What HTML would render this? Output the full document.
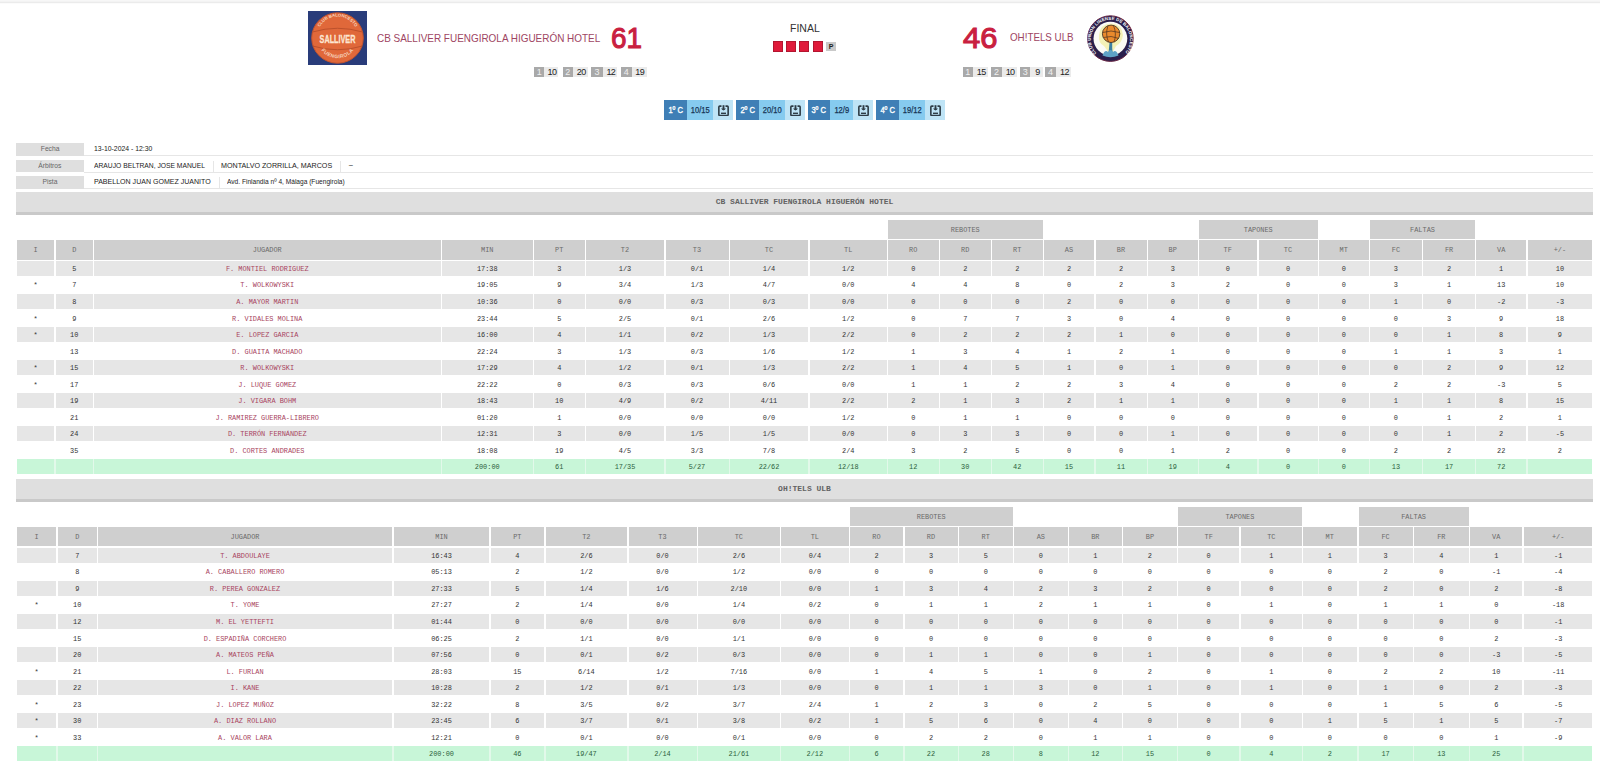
<!DOCTYPE html>
<html><head><meta charset="utf-8">
<style>
html,body{margin:0;padding:0;background:#fff;width:1600px;height:769px;overflow:hidden;position:relative}
body{font-family:"Liberation Sans",sans-serif}
.topbar{position:absolute;left:0;top:0;width:1600px;height:4px;background:linear-gradient(#f7f7f7 0,#f7f7f7 25%,#f3f3f3 25%,#f3f3f3 50%,#ebebeb 50%,#ebebeb 75%,#fbfbfb 75%)}
.abs{position:absolute}
.hd,.sup,.odd,.even,.tot{position:absolute;font-family:"Liberation Mono",monospace;font-size:6.9px;text-align:center;white-space:nowrap;overflow:hidden}
.hd,.sup{background:#cfcfcf;color:#6a6a6a}
.odd{background:#e6e6e6;color:#333}
.even{background:#fff;color:#333}
.nm{color:#a8445e}
.tot{background:#c8f6d8;color:#2c5e3c}
.sec{position:absolute;left:16px;width:1577px;height:20px;border-bottom:3.3px solid #c9c9c9;background:#dfdfdf;font-family:"Liberation Mono",monospace;font-weight:bold;font-size:8px;line-height:20px;text-align:center;color:#636363}
.info{position:absolute;left:16px;width:1577px;height:13px;font-size:8px;color:#222}
.info .lab{position:absolute;left:0;top:0;width:68px;height:12.5px;background:#dfdfdf;color:#666;text-align:center;line-height:12.5px}
.info .lab i{font-style:normal;display:inline-block;transform:scaleX(0.84)}
.info .line{position:absolute;left:68px;right:0;bottom:0;height:1px;background:#e6e6e6}
.info span{position:absolute;top:0;line-height:12.5px;white-space:nowrap}
.info .sep{position:absolute;top:1px;width:1px;height:11px;background:#e6e6e6}
.qbox{position:absolute;top:67px;height:9.7px}
.qn{position:absolute;top:0;height:9.7px;background:#a9a9a9;color:#f0f0f0;font-size:9px;line-height:10.5px;text-align:center}
.qv{position:absolute;top:0;height:9.7px;background:#ebebeb;color:#222;font-size:9px;line-height:10.5px;text-align:center;letter-spacing:-0.6px;text-indent:1.4px}
.qg{position:absolute;top:100.2px;height:19.6px}
.qg .d{position:absolute;top:0;height:100%;background:#3f7fb6;color:#fff;font-size:9px;line-height:20px;text-align:center}
.qg .m{position:absolute;top:0;height:100%;background:#86cbef;color:#173456;font-size:9px;line-height:20px;text-align:center}
.qg .l{position:absolute;top:0;height:100%;background:#bfe4f6}
.sx{display:inline-block;transform:scaleX(0.84)}
.qg .d .sx{-webkit-text-stroke:0.35px #fff}
.qg .m .sx{-webkit-text-stroke:0.25px #173456}
</style></head><body>
<div class="topbar"></div>

<!-- home logo -->
<svg class="abs" style="left:308px;top:11px" width="59" height="54" viewBox="0 0 59 54">
<defs><path id="arcT" d="M9.5 25 A20 19.5 0 0 1 49.5 25"/><path id="arcB" d="M9 27 A20.5 20.2 0 0 0 50 27"/></defs>
<rect x="0" y="0" width="59" height="54" fill="#293c7a"/>
<ellipse cx="29.5" cy="27" rx="25.8" ry="25.2" fill="#e0683a" stroke="#c4542e" stroke-width="1"/>
<path d="M4.5 21 Q29.5 13.5 54.5 21" stroke="#b84e2a" stroke-width="0.9" fill="none"/>
<path d="M4.5 35 Q29.5 42.5 54.5 35" stroke="#b84e2a" stroke-width="0.9" fill="none"/>
<text x="29.5" y="0" text-anchor="middle" font-family="Liberation Sans" font-weight="bold" font-size="11" fill="#fde6d2" transform="translate(29.5 32) scale(0.66 1.0) translate(-29.5 0)" stroke="#fde6d2" stroke-width="0.3">SALLIVER</text>
<text font-family="Liberation Sans" font-weight="bold" font-size="4.3" fill="#f6d3bd" text-anchor="middle"><textPath href="#arcT" startOffset="50%">CLUB BALONCESTO</textPath></text>
<text font-family="Liberation Sans" font-weight="bold" font-size="5" fill="#f6d3bd" text-anchor="middle" letter-spacing="0.4"><textPath href="#arcB" startOffset="50%">FUENGIROLA</textPath></text>
</svg>

<div class="abs" id="hname" style="left:376.5px;top:31.5px;font-size:11px;transform:scaleX(0.904);transform-origin:0 0;color:#9e4562;white-space:nowrap;line-height:13px">CB SALLIVER FUENGIROLA HIGUERÓN HOTEL</div>
<div class="abs" id="hscore" style="left:610.5px;top:19.5px;transform:scaleX(0.93);transform-origin:0 0;font-size:30px;font-weight:normal;-webkit-text-stroke:1.1px #c9203f;color:#c9203f;line-height:36px">61</div>

<div class="qbox" style="left:0">
<div class="qn" style="left:534px;width:10.4px">1</div><div class="qv" style="left:544.4px;width:13.8px">10</div>
<div class="qn" style="left:562.5px;width:10.5px">2</div><div class="qv" style="left:573px;width:15px">20</div>
<div class="qn" style="left:591.2px;width:11.6px">3</div><div class="qv" style="left:602.8px;width:14.7px">12</div>
<div class="qn" style="left:621px;width:10.5px">4</div><div class="qv" style="left:631.5px;width:15.1px">19</div>
</div>

<!-- center -->
<div class="abs" style="left:790px;top:22px;font-size:10.5px;color:#333;line-height:12px">FINAL</div>
<div class="abs" style="left:773px;top:41.3px;width:10px;height:10.3px;background:#df1a3a;box-shadow:inset 0 0 0 0.8px #a8142e"></div>
<div class="abs" style="left:786.4px;top:41.3px;width:10px;height:10.3px;background:#df1a3a;box-shadow:inset 0 0 0 0.8px #a8142e"></div>
<div class="abs" style="left:799.2px;top:41.3px;width:10px;height:10.3px;background:#df1a3a;box-shadow:inset 0 0 0 0.8px #a8142e"></div>
<div class="abs" style="left:812.7px;top:41.3px;width:10px;height:10.3px;background:#df1a3a;box-shadow:inset 0 0 0 0.8px #a8142e"></div>
<div class="abs" style="left:826.1px;top:41.6px;width:10px;height:9.6px;background:#c9c9c9;color:#222;font-size:7px;font-weight:bold;text-align:center;line-height:10px">P</div>

<!-- away -->
<div class="abs" id="ascore" style="left:962.7px;top:19.5px;transform:scaleX(1.03);transform-origin:0 0;font-size:30px;font-weight:normal;-webkit-text-stroke:1.1px #c9203f;color:#c9203f;line-height:36px">46</div>
<div class="abs" id="aname" style="left:1009.5px;top:31.3px;font-size:11px;transform:scaleX(0.89);transform-origin:0 0;color:#9e4562;white-space:nowrap;line-height:13px">OH!TELS ULB</div>
<svg class="abs" style="left:1086px;top:15px" width="48" height="48" viewBox="0 0 48 48">
<defs><path id="ring" d="M10.8 38.6 A19.6 19.6 0 1 1 38 38.6"/></defs>
<circle cx="24.4" cy="23.6" r="22.8" fill="#2a1f4c" stroke="#6a2845" stroke-width="1"/>
<circle cx="24.4" cy="23.6" r="16.9" fill="#fbfbf6"/>
<path d="M13 20 Q14 9 25 8.5 Q36 9 37 20 Q36 28 30 31 Q27 36 26 40 L23 40 Q21 34 18 31 Q12 28 13 20Z" fill="#f1eda0" opacity="0.75"/>
<path d="M23.6 27 Q23 33 22.6 38 L26.6 38 Q26 33 26.2 27Z" fill="#3c7fa2"/>
<path d="M16.5 40.5 Q19 34 22 37 Q24.5 33 27 37 Q30 34 32.5 40.5 Q24.5 44 16.5 40.5Z" fill="#5ea3c6"/>
<circle cx="25.1" cy="18.8" r="8.7" fill="#e98a2c" stroke="#3a281c" stroke-width="0.8"/>
<path d="M16.6 17.5 Q25 14.5 33.6 17.5 M17.5 22.5 Q25 20 33 23.5 M22 10.6 Q19 19 22.5 27 M27.5 10.5 Q31 19 28 27" stroke="#4a3020" stroke-width="0.7" fill="none"/>
<text font-family="Liberation Sans" font-weight="bold" font-size="4.4" fill="#ffffff" letter-spacing="0.1"><textPath href="#ring" startOffset="0.5">CLUB UNION LINENSE DE BALONCESTO</textPath></text>
</svg>

<div class="qbox" style="left:0">
<div class="qn" style="left:962.7px;width:10.1px">1</div><div class="qv" style="left:972.8px;width:15.4px">15</div>
<div class="qn" style="left:991.2px;width:10.7px">2</div><div class="qv" style="left:1001.9px;width:14.9px">10</div>
<div class="qn" style="left:1020px;width:10.4px">3</div><div class="qv" style="left:1030.4px;width:12.5px">9</div>
<div class="qn" style="left:1045.2px;width:10.8px">4</div><div class="qv" style="left:1056px;width:15.4px">12</div>
</div>

<!-- quarter buttons -->
<div class="qg" style="left:664.1px;width:68.5px"><div class="d" style="left:0;width:22.6px"><span class="sx">1º C</span></div><div class="m" style="left:22.6px;width:26.2px"><span class="sx">10/15</span></div><div class="l" style="left:48.8px;width:19.7px"><svg width="11" height="11.5" viewBox="0 0 11 11.5" style="position:absolute;left:50%;top:50%;margin:-5px 0 0 -5px"><path d="M3.5 1.1H1.8Q0.85 1.1 0.85 2.1V9.6Q0.85 10.6 1.8 10.6H9.2Q10.15 10.6 10.15 9.6V2.1Q10.15 1.1 9.2 1.1H7.5" stroke="#2f3c46" stroke-width="1.6" fill="none"/><path d="M5.5 0.2V4.6" stroke="#2f3c46" stroke-width="1.9"/><path d="M3 3.6Q5.5 7.2 8 3.6Z" fill="#2f3c46"/><rect x="3" y="7.6" width="5" height="1.4" fill="#2f3c46"/></svg></div></div>
<div class="qg" style="left:736.1px;width:69.4px"><div class="d" style="left:0;width:22.5px"><span class="sx">2º C</span></div><div class="m" style="left:22.5px;width:26.7px"><span class="sx">20/10</span></div><div class="l" style="left:49.2px;width:20.2px"><svg width="11" height="11.5" viewBox="0 0 11 11.5" style="position:absolute;left:50%;top:50%;margin:-5px 0 0 -5px"><path d="M3.5 1.1H1.8Q0.85 1.1 0.85 2.1V9.6Q0.85 10.6 1.8 10.6H9.2Q10.15 10.6 10.15 9.6V2.1Q10.15 1.1 9.2 1.1H7.5" stroke="#2f3c46" stroke-width="1.6" fill="none"/><path d="M5.5 0.2V4.6" stroke="#2f3c46" stroke-width="1.9"/><path d="M3 3.6Q5.5 7.2 8 3.6Z" fill="#2f3c46"/><rect x="3" y="7.6" width="5" height="1.4" fill="#2f3c46"/></svg></div></div>
<div class="qg" style="left:808px;width:65px"><div class="d" style="left:0;width:22.2px"><span class="sx">3º C</span></div><div class="m" style="left:22.2px;width:22.6px"><span class="sx">12/9</span></div><div class="l" style="left:44.8px;width:20.2px"><svg width="11" height="11.5" viewBox="0 0 11 11.5" style="position:absolute;left:50%;top:50%;margin:-5px 0 0 -5px"><path d="M3.5 1.1H1.8Q0.85 1.1 0.85 2.1V9.6Q0.85 10.6 1.8 10.6H9.2Q10.15 10.6 10.15 9.6V2.1Q10.15 1.1 9.2 1.1H7.5" stroke="#2f3c46" stroke-width="1.6" fill="none"/><path d="M5.5 0.2V4.6" stroke="#2f3c46" stroke-width="1.9"/><path d="M3 3.6Q5.5 7.2 8 3.6Z" fill="#2f3c46"/><rect x="3" y="7.6" width="5" height="1.4" fill="#2f3c46"/></svg></div></div>
<div class="qg" style="left:876.2px;width:68.8px"><div class="d" style="left:0;width:22.8px"><span class="sx">4º C</span></div><div class="m" style="left:22.8px;width:26px"><span class="sx">19/12</span></div><div class="l" style="left:48.8px;width:20px"><svg width="11" height="11.5" viewBox="0 0 11 11.5" style="position:absolute;left:50%;top:50%;margin:-5px 0 0 -5px"><path d="M3.5 1.1H1.8Q0.85 1.1 0.85 2.1V9.6Q0.85 10.6 1.8 10.6H9.2Q10.15 10.6 10.15 9.6V2.1Q10.15 1.1 9.2 1.1H7.5" stroke="#2f3c46" stroke-width="1.6" fill="none"/><path d="M5.5 0.2V4.6" stroke="#2f3c46" stroke-width="1.9"/><path d="M3 3.6Q5.5 7.2 8 3.6Z" fill="#2f3c46"/><rect x="3" y="7.6" width="5" height="1.4" fill="#2f3c46"/></svg></div></div>

<!-- info rows -->
<div class="info" style="top:143px"><div class="lab"><i>Fecha</i></div><div class="line"></div><span style="left:77.7px;transform:scaleX(0.858);transform-origin:0 0">13-10-2024 - 12:30</span></div>
<div class="info" style="top:159.5px"><div class="lab"><i>Árbitros</i></div><div class="line"></div><span style="left:77.7px;transform:scaleX(0.841);transform-origin:0 0">ARAUJO BELTRAN, JOSE MANUEL</span><div class="sep" style="left:196.5px"></div><span style="left:204.9px;transform:scaleX(0.892);transform-origin:0 0">MONTALVO ZORRILLA, MARCOS</span><div class="sep" style="left:323.5px"></div><span style="left:332.6px">~</span></div>
<div class="info" style="top:176px"><div class="lab"><i>Pista</i></div><div class="line"></div><span style="left:77.7px;transform:scaleX(0.88);transform-origin:0 0">PABELLON JUAN GOMEZ JUANITO</span><div class="sep" style="left:202.6px"></div><span style="left:210.7px;transform:scaleX(0.824);transform-origin:0 0">Avd. Finlandia nº 4, Málaga (Fuengirola)</span></div>

<div class="sec" style="top:192.00px">CB SALLIVER FUENGIROLA HIGUERÓN HOTEL</div>
<div class="sup" style="left:888.00px;top:220.00px;width:154.50px;height:18.80px;line-height:20.80px">REBOTES</div>
<div class="sup" style="left:1199.00px;top:220.00px;width:118.50px;height:18.80px;line-height:20.80px">TAPONES</div>
<div class="sup" style="left:1370.00px;top:220.00px;width:105.00px;height:18.80px;line-height:20.80px">FALTAS</div>
<div class="hd" style="left:17.00px;top:240.30px;width:37.00px;height:19.30px;line-height:21.30px">I</div>
<div class="hd" style="left:55.50px;top:240.30px;width:37.50px;height:19.30px;line-height:21.30px">D</div>
<div class="hd" style="left:94.00px;top:240.30px;width:346.50px;height:19.30px;line-height:21.30px">JUGADOR</div>
<div class="hd" style="left:442.00px;top:240.30px;width:90.50px;height:19.30px;line-height:21.30px">MIN</div>
<div class="hd" style="left:534.00px;top:240.30px;width:50.50px;height:19.30px;line-height:21.30px">PT</div>
<div class="hd" style="left:586.00px;top:240.30px;width:78.00px;height:19.30px;line-height:21.30px">T2</div>
<div class="hd" style="left:665.50px;top:240.30px;width:63.00px;height:19.30px;line-height:21.30px">T3</div>
<div class="hd" style="left:730.00px;top:240.30px;width:78.00px;height:19.30px;line-height:21.30px">TC</div>
<div class="hd" style="left:809.50px;top:240.30px;width:77.50px;height:19.30px;line-height:21.30px">TL</div>
<div class="hd" style="left:888.00px;top:240.30px;width:50.50px;height:19.30px;line-height:21.30px">RO</div>
<div class="hd" style="left:940.00px;top:240.30px;width:50.50px;height:19.30px;line-height:21.30px">RD</div>
<div class="hd" style="left:992.00px;top:240.30px;width:50.50px;height:19.30px;line-height:21.30px">RT</div>
<div class="hd" style="left:1044.00px;top:240.30px;width:50.00px;height:19.30px;line-height:21.30px">AS</div>
<div class="hd" style="left:1095.50px;top:240.30px;width:51.00px;height:19.30px;line-height:21.30px">BR</div>
<div class="hd" style="left:1148.00px;top:240.30px;width:49.50px;height:19.30px;line-height:21.30px">BP</div>
<div class="hd" style="left:1199.00px;top:240.30px;width:57.50px;height:19.30px;line-height:21.30px">TF</div>
<div class="hd" style="left:1258.50px;top:240.30px;width:59.00px;height:19.30px;line-height:21.30px">TC</div>
<div class="hd" style="left:1319.00px;top:240.30px;width:49.50px;height:19.30px;line-height:21.30px">MT</div>
<div class="hd" style="left:1370.00px;top:240.30px;width:51.80px;height:19.30px;line-height:21.30px">FC</div>
<div class="hd" style="left:1423.20px;top:240.30px;width:51.80px;height:19.30px;line-height:21.30px">FR</div>
<div class="hd" style="left:1476.40px;top:240.30px;width:49.60px;height:19.30px;line-height:21.30px">VA</div>
<div class="hd" style="left:1527.60px;top:240.30px;width:64.70px;height:19.30px;line-height:21.30px">+/-</div>
<div class="odd" style="left:17.00px;top:260.90px;width:37.00px;height:15.10px;line-height:16.10px"></div>
<div class="odd" style="left:55.50px;top:260.90px;width:37.50px;height:15.10px;line-height:16.10px">5</div>
<div class="odd nm" style="left:94.00px;top:260.90px;width:346.50px;height:15.10px;line-height:16.10px">F. MONTIEL RODRIGUEZ</div>
<div class="odd" style="left:442.00px;top:260.90px;width:90.50px;height:15.10px;line-height:16.10px">17:38</div>
<div class="odd" style="left:534.00px;top:260.90px;width:50.50px;height:15.10px;line-height:16.10px">3</div>
<div class="odd" style="left:586.00px;top:260.90px;width:78.00px;height:15.10px;line-height:16.10px">1/3</div>
<div class="odd" style="left:665.50px;top:260.90px;width:63.00px;height:15.10px;line-height:16.10px">0/1</div>
<div class="odd" style="left:730.00px;top:260.90px;width:78.00px;height:15.10px;line-height:16.10px">1/4</div>
<div class="odd" style="left:809.50px;top:260.90px;width:77.50px;height:15.10px;line-height:16.10px">1/2</div>
<div class="odd" style="left:888.00px;top:260.90px;width:50.50px;height:15.10px;line-height:16.10px">0</div>
<div class="odd" style="left:940.00px;top:260.90px;width:50.50px;height:15.10px;line-height:16.10px">2</div>
<div class="odd" style="left:992.00px;top:260.90px;width:50.50px;height:15.10px;line-height:16.10px">2</div>
<div class="odd" style="left:1044.00px;top:260.90px;width:50.00px;height:15.10px;line-height:16.10px">2</div>
<div class="odd" style="left:1095.50px;top:260.90px;width:51.00px;height:15.10px;line-height:16.10px">2</div>
<div class="odd" style="left:1148.00px;top:260.90px;width:49.50px;height:15.10px;line-height:16.10px">3</div>
<div class="odd" style="left:1199.00px;top:260.90px;width:57.50px;height:15.10px;line-height:16.10px">0</div>
<div class="odd" style="left:1258.50px;top:260.90px;width:59.00px;height:15.10px;line-height:16.10px">0</div>
<div class="odd" style="left:1319.00px;top:260.90px;width:49.50px;height:15.10px;line-height:16.10px">0</div>
<div class="odd" style="left:1370.00px;top:260.90px;width:51.80px;height:15.10px;line-height:16.10px">3</div>
<div class="odd" style="left:1423.20px;top:260.90px;width:51.80px;height:15.10px;line-height:16.10px">2</div>
<div class="odd" style="left:1476.40px;top:260.90px;width:49.60px;height:15.10px;line-height:16.10px">1</div>
<div class="odd" style="left:1527.60px;top:260.90px;width:64.70px;height:15.10px;line-height:16.10px">10</div>
<div class="even" style="left:17.00px;top:277.44px;width:37.00px;height:15.10px;line-height:16.10px">*</div>
<div class="even" style="left:55.50px;top:277.44px;width:37.50px;height:15.10px;line-height:16.10px">7</div>
<div class="even nm" style="left:94.00px;top:277.44px;width:346.50px;height:15.10px;line-height:16.10px">T. WOLKOWYSKI</div>
<div class="even" style="left:442.00px;top:277.44px;width:90.50px;height:15.10px;line-height:16.10px">19:05</div>
<div class="even" style="left:534.00px;top:277.44px;width:50.50px;height:15.10px;line-height:16.10px">9</div>
<div class="even" style="left:586.00px;top:277.44px;width:78.00px;height:15.10px;line-height:16.10px">3/4</div>
<div class="even" style="left:665.50px;top:277.44px;width:63.00px;height:15.10px;line-height:16.10px">1/3</div>
<div class="even" style="left:730.00px;top:277.44px;width:78.00px;height:15.10px;line-height:16.10px">4/7</div>
<div class="even" style="left:809.50px;top:277.44px;width:77.50px;height:15.10px;line-height:16.10px">0/0</div>
<div class="even" style="left:888.00px;top:277.44px;width:50.50px;height:15.10px;line-height:16.10px">4</div>
<div class="even" style="left:940.00px;top:277.44px;width:50.50px;height:15.10px;line-height:16.10px">4</div>
<div class="even" style="left:992.00px;top:277.44px;width:50.50px;height:15.10px;line-height:16.10px">8</div>
<div class="even" style="left:1044.00px;top:277.44px;width:50.00px;height:15.10px;line-height:16.10px">0</div>
<div class="even" style="left:1095.50px;top:277.44px;width:51.00px;height:15.10px;line-height:16.10px">2</div>
<div class="even" style="left:1148.00px;top:277.44px;width:49.50px;height:15.10px;line-height:16.10px">3</div>
<div class="even" style="left:1199.00px;top:277.44px;width:57.50px;height:15.10px;line-height:16.10px">2</div>
<div class="even" style="left:1258.50px;top:277.44px;width:59.00px;height:15.10px;line-height:16.10px">0</div>
<div class="even" style="left:1319.00px;top:277.44px;width:49.50px;height:15.10px;line-height:16.10px">0</div>
<div class="even" style="left:1370.00px;top:277.44px;width:51.80px;height:15.10px;line-height:16.10px">3</div>
<div class="even" style="left:1423.20px;top:277.44px;width:51.80px;height:15.10px;line-height:16.10px">1</div>
<div class="even" style="left:1476.40px;top:277.44px;width:49.60px;height:15.10px;line-height:16.10px">13</div>
<div class="even" style="left:1527.60px;top:277.44px;width:64.70px;height:15.10px;line-height:16.10px">10</div>
<div class="odd" style="left:17.00px;top:293.98px;width:37.00px;height:15.10px;line-height:16.10px"></div>
<div class="odd" style="left:55.50px;top:293.98px;width:37.50px;height:15.10px;line-height:16.10px">8</div>
<div class="odd nm" style="left:94.00px;top:293.98px;width:346.50px;height:15.10px;line-height:16.10px">A. MAYOR MARTIN</div>
<div class="odd" style="left:442.00px;top:293.98px;width:90.50px;height:15.10px;line-height:16.10px">10:36</div>
<div class="odd" style="left:534.00px;top:293.98px;width:50.50px;height:15.10px;line-height:16.10px">0</div>
<div class="odd" style="left:586.00px;top:293.98px;width:78.00px;height:15.10px;line-height:16.10px">0/0</div>
<div class="odd" style="left:665.50px;top:293.98px;width:63.00px;height:15.10px;line-height:16.10px">0/3</div>
<div class="odd" style="left:730.00px;top:293.98px;width:78.00px;height:15.10px;line-height:16.10px">0/3</div>
<div class="odd" style="left:809.50px;top:293.98px;width:77.50px;height:15.10px;line-height:16.10px">0/0</div>
<div class="odd" style="left:888.00px;top:293.98px;width:50.50px;height:15.10px;line-height:16.10px">0</div>
<div class="odd" style="left:940.00px;top:293.98px;width:50.50px;height:15.10px;line-height:16.10px">0</div>
<div class="odd" style="left:992.00px;top:293.98px;width:50.50px;height:15.10px;line-height:16.10px">0</div>
<div class="odd" style="left:1044.00px;top:293.98px;width:50.00px;height:15.10px;line-height:16.10px">2</div>
<div class="odd" style="left:1095.50px;top:293.98px;width:51.00px;height:15.10px;line-height:16.10px">0</div>
<div class="odd" style="left:1148.00px;top:293.98px;width:49.50px;height:15.10px;line-height:16.10px">0</div>
<div class="odd" style="left:1199.00px;top:293.98px;width:57.50px;height:15.10px;line-height:16.10px">0</div>
<div class="odd" style="left:1258.50px;top:293.98px;width:59.00px;height:15.10px;line-height:16.10px">0</div>
<div class="odd" style="left:1319.00px;top:293.98px;width:49.50px;height:15.10px;line-height:16.10px">0</div>
<div class="odd" style="left:1370.00px;top:293.98px;width:51.80px;height:15.10px;line-height:16.10px">1</div>
<div class="odd" style="left:1423.20px;top:293.98px;width:51.80px;height:15.10px;line-height:16.10px">0</div>
<div class="odd" style="left:1476.40px;top:293.98px;width:49.60px;height:15.10px;line-height:16.10px">-2</div>
<div class="odd" style="left:1527.60px;top:293.98px;width:64.70px;height:15.10px;line-height:16.10px">-3</div>
<div class="even" style="left:17.00px;top:310.52px;width:37.00px;height:15.10px;line-height:16.10px">*</div>
<div class="even" style="left:55.50px;top:310.52px;width:37.50px;height:15.10px;line-height:16.10px">9</div>
<div class="even nm" style="left:94.00px;top:310.52px;width:346.50px;height:15.10px;line-height:16.10px">R. VIDALES MOLINA</div>
<div class="even" style="left:442.00px;top:310.52px;width:90.50px;height:15.10px;line-height:16.10px">23:44</div>
<div class="even" style="left:534.00px;top:310.52px;width:50.50px;height:15.10px;line-height:16.10px">5</div>
<div class="even" style="left:586.00px;top:310.52px;width:78.00px;height:15.10px;line-height:16.10px">2/5</div>
<div class="even" style="left:665.50px;top:310.52px;width:63.00px;height:15.10px;line-height:16.10px">0/1</div>
<div class="even" style="left:730.00px;top:310.52px;width:78.00px;height:15.10px;line-height:16.10px">2/6</div>
<div class="even" style="left:809.50px;top:310.52px;width:77.50px;height:15.10px;line-height:16.10px">1/2</div>
<div class="even" style="left:888.00px;top:310.52px;width:50.50px;height:15.10px;line-height:16.10px">0</div>
<div class="even" style="left:940.00px;top:310.52px;width:50.50px;height:15.10px;line-height:16.10px">7</div>
<div class="even" style="left:992.00px;top:310.52px;width:50.50px;height:15.10px;line-height:16.10px">7</div>
<div class="even" style="left:1044.00px;top:310.52px;width:50.00px;height:15.10px;line-height:16.10px">3</div>
<div class="even" style="left:1095.50px;top:310.52px;width:51.00px;height:15.10px;line-height:16.10px">0</div>
<div class="even" style="left:1148.00px;top:310.52px;width:49.50px;height:15.10px;line-height:16.10px">4</div>
<div class="even" style="left:1199.00px;top:310.52px;width:57.50px;height:15.10px;line-height:16.10px">0</div>
<div class="even" style="left:1258.50px;top:310.52px;width:59.00px;height:15.10px;line-height:16.10px">0</div>
<div class="even" style="left:1319.00px;top:310.52px;width:49.50px;height:15.10px;line-height:16.10px">0</div>
<div class="even" style="left:1370.00px;top:310.52px;width:51.80px;height:15.10px;line-height:16.10px">0</div>
<div class="even" style="left:1423.20px;top:310.52px;width:51.80px;height:15.10px;line-height:16.10px">3</div>
<div class="even" style="left:1476.40px;top:310.52px;width:49.60px;height:15.10px;line-height:16.10px">9</div>
<div class="even" style="left:1527.60px;top:310.52px;width:64.70px;height:15.10px;line-height:16.10px">18</div>
<div class="odd" style="left:17.00px;top:327.06px;width:37.00px;height:15.10px;line-height:16.10px">*</div>
<div class="odd" style="left:55.50px;top:327.06px;width:37.50px;height:15.10px;line-height:16.10px">10</div>
<div class="odd nm" style="left:94.00px;top:327.06px;width:346.50px;height:15.10px;line-height:16.10px">E. LOPEZ GARCIA</div>
<div class="odd" style="left:442.00px;top:327.06px;width:90.50px;height:15.10px;line-height:16.10px">16:00</div>
<div class="odd" style="left:534.00px;top:327.06px;width:50.50px;height:15.10px;line-height:16.10px">4</div>
<div class="odd" style="left:586.00px;top:327.06px;width:78.00px;height:15.10px;line-height:16.10px">1/1</div>
<div class="odd" style="left:665.50px;top:327.06px;width:63.00px;height:15.10px;line-height:16.10px">0/2</div>
<div class="odd" style="left:730.00px;top:327.06px;width:78.00px;height:15.10px;line-height:16.10px">1/3</div>
<div class="odd" style="left:809.50px;top:327.06px;width:77.50px;height:15.10px;line-height:16.10px">2/2</div>
<div class="odd" style="left:888.00px;top:327.06px;width:50.50px;height:15.10px;line-height:16.10px">0</div>
<div class="odd" style="left:940.00px;top:327.06px;width:50.50px;height:15.10px;line-height:16.10px">2</div>
<div class="odd" style="left:992.00px;top:327.06px;width:50.50px;height:15.10px;line-height:16.10px">2</div>
<div class="odd" style="left:1044.00px;top:327.06px;width:50.00px;height:15.10px;line-height:16.10px">2</div>
<div class="odd" style="left:1095.50px;top:327.06px;width:51.00px;height:15.10px;line-height:16.10px">1</div>
<div class="odd" style="left:1148.00px;top:327.06px;width:49.50px;height:15.10px;line-height:16.10px">0</div>
<div class="odd" style="left:1199.00px;top:327.06px;width:57.50px;height:15.10px;line-height:16.10px">0</div>
<div class="odd" style="left:1258.50px;top:327.06px;width:59.00px;height:15.10px;line-height:16.10px">0</div>
<div class="odd" style="left:1319.00px;top:327.06px;width:49.50px;height:15.10px;line-height:16.10px">0</div>
<div class="odd" style="left:1370.00px;top:327.06px;width:51.80px;height:15.10px;line-height:16.10px">0</div>
<div class="odd" style="left:1423.20px;top:327.06px;width:51.80px;height:15.10px;line-height:16.10px">1</div>
<div class="odd" style="left:1476.40px;top:327.06px;width:49.60px;height:15.10px;line-height:16.10px">8</div>
<div class="odd" style="left:1527.60px;top:327.06px;width:64.70px;height:15.10px;line-height:16.10px">9</div>
<div class="even" style="left:17.00px;top:343.60px;width:37.00px;height:15.10px;line-height:16.10px"></div>
<div class="even" style="left:55.50px;top:343.60px;width:37.50px;height:15.10px;line-height:16.10px">13</div>
<div class="even nm" style="left:94.00px;top:343.60px;width:346.50px;height:15.10px;line-height:16.10px">D. GUAITA MACHADO</div>
<div class="even" style="left:442.00px;top:343.60px;width:90.50px;height:15.10px;line-height:16.10px">22:24</div>
<div class="even" style="left:534.00px;top:343.60px;width:50.50px;height:15.10px;line-height:16.10px">3</div>
<div class="even" style="left:586.00px;top:343.60px;width:78.00px;height:15.10px;line-height:16.10px">1/3</div>
<div class="even" style="left:665.50px;top:343.60px;width:63.00px;height:15.10px;line-height:16.10px">0/3</div>
<div class="even" style="left:730.00px;top:343.60px;width:78.00px;height:15.10px;line-height:16.10px">1/6</div>
<div class="even" style="left:809.50px;top:343.60px;width:77.50px;height:15.10px;line-height:16.10px">1/2</div>
<div class="even" style="left:888.00px;top:343.60px;width:50.50px;height:15.10px;line-height:16.10px">1</div>
<div class="even" style="left:940.00px;top:343.60px;width:50.50px;height:15.10px;line-height:16.10px">3</div>
<div class="even" style="left:992.00px;top:343.60px;width:50.50px;height:15.10px;line-height:16.10px">4</div>
<div class="even" style="left:1044.00px;top:343.60px;width:50.00px;height:15.10px;line-height:16.10px">1</div>
<div class="even" style="left:1095.50px;top:343.60px;width:51.00px;height:15.10px;line-height:16.10px">2</div>
<div class="even" style="left:1148.00px;top:343.60px;width:49.50px;height:15.10px;line-height:16.10px">1</div>
<div class="even" style="left:1199.00px;top:343.60px;width:57.50px;height:15.10px;line-height:16.10px">0</div>
<div class="even" style="left:1258.50px;top:343.60px;width:59.00px;height:15.10px;line-height:16.10px">0</div>
<div class="even" style="left:1319.00px;top:343.60px;width:49.50px;height:15.10px;line-height:16.10px">0</div>
<div class="even" style="left:1370.00px;top:343.60px;width:51.80px;height:15.10px;line-height:16.10px">1</div>
<div class="even" style="left:1423.20px;top:343.60px;width:51.80px;height:15.10px;line-height:16.10px">1</div>
<div class="even" style="left:1476.40px;top:343.60px;width:49.60px;height:15.10px;line-height:16.10px">3</div>
<div class="even" style="left:1527.60px;top:343.60px;width:64.70px;height:15.10px;line-height:16.10px">1</div>
<div class="odd" style="left:17.00px;top:360.14px;width:37.00px;height:15.10px;line-height:16.10px">*</div>
<div class="odd" style="left:55.50px;top:360.14px;width:37.50px;height:15.10px;line-height:16.10px">15</div>
<div class="odd nm" style="left:94.00px;top:360.14px;width:346.50px;height:15.10px;line-height:16.10px">R. WOLKOWYSKI</div>
<div class="odd" style="left:442.00px;top:360.14px;width:90.50px;height:15.10px;line-height:16.10px">17:29</div>
<div class="odd" style="left:534.00px;top:360.14px;width:50.50px;height:15.10px;line-height:16.10px">4</div>
<div class="odd" style="left:586.00px;top:360.14px;width:78.00px;height:15.10px;line-height:16.10px">1/2</div>
<div class="odd" style="left:665.50px;top:360.14px;width:63.00px;height:15.10px;line-height:16.10px">0/1</div>
<div class="odd" style="left:730.00px;top:360.14px;width:78.00px;height:15.10px;line-height:16.10px">1/3</div>
<div class="odd" style="left:809.50px;top:360.14px;width:77.50px;height:15.10px;line-height:16.10px">2/2</div>
<div class="odd" style="left:888.00px;top:360.14px;width:50.50px;height:15.10px;line-height:16.10px">1</div>
<div class="odd" style="left:940.00px;top:360.14px;width:50.50px;height:15.10px;line-height:16.10px">4</div>
<div class="odd" style="left:992.00px;top:360.14px;width:50.50px;height:15.10px;line-height:16.10px">5</div>
<div class="odd" style="left:1044.00px;top:360.14px;width:50.00px;height:15.10px;line-height:16.10px">1</div>
<div class="odd" style="left:1095.50px;top:360.14px;width:51.00px;height:15.10px;line-height:16.10px">0</div>
<div class="odd" style="left:1148.00px;top:360.14px;width:49.50px;height:15.10px;line-height:16.10px">1</div>
<div class="odd" style="left:1199.00px;top:360.14px;width:57.50px;height:15.10px;line-height:16.10px">0</div>
<div class="odd" style="left:1258.50px;top:360.14px;width:59.00px;height:15.10px;line-height:16.10px">0</div>
<div class="odd" style="left:1319.00px;top:360.14px;width:49.50px;height:15.10px;line-height:16.10px">0</div>
<div class="odd" style="left:1370.00px;top:360.14px;width:51.80px;height:15.10px;line-height:16.10px">0</div>
<div class="odd" style="left:1423.20px;top:360.14px;width:51.80px;height:15.10px;line-height:16.10px">2</div>
<div class="odd" style="left:1476.40px;top:360.14px;width:49.60px;height:15.10px;line-height:16.10px">9</div>
<div class="odd" style="left:1527.60px;top:360.14px;width:64.70px;height:15.10px;line-height:16.10px">12</div>
<div class="even" style="left:17.00px;top:376.68px;width:37.00px;height:15.10px;line-height:16.10px">*</div>
<div class="even" style="left:55.50px;top:376.68px;width:37.50px;height:15.10px;line-height:16.10px">17</div>
<div class="even nm" style="left:94.00px;top:376.68px;width:346.50px;height:15.10px;line-height:16.10px">J. LUQUE GOMEZ</div>
<div class="even" style="left:442.00px;top:376.68px;width:90.50px;height:15.10px;line-height:16.10px">22:22</div>
<div class="even" style="left:534.00px;top:376.68px;width:50.50px;height:15.10px;line-height:16.10px">0</div>
<div class="even" style="left:586.00px;top:376.68px;width:78.00px;height:15.10px;line-height:16.10px">0/3</div>
<div class="even" style="left:665.50px;top:376.68px;width:63.00px;height:15.10px;line-height:16.10px">0/3</div>
<div class="even" style="left:730.00px;top:376.68px;width:78.00px;height:15.10px;line-height:16.10px">0/6</div>
<div class="even" style="left:809.50px;top:376.68px;width:77.50px;height:15.10px;line-height:16.10px">0/0</div>
<div class="even" style="left:888.00px;top:376.68px;width:50.50px;height:15.10px;line-height:16.10px">1</div>
<div class="even" style="left:940.00px;top:376.68px;width:50.50px;height:15.10px;line-height:16.10px">1</div>
<div class="even" style="left:992.00px;top:376.68px;width:50.50px;height:15.10px;line-height:16.10px">2</div>
<div class="even" style="left:1044.00px;top:376.68px;width:50.00px;height:15.10px;line-height:16.10px">2</div>
<div class="even" style="left:1095.50px;top:376.68px;width:51.00px;height:15.10px;line-height:16.10px">3</div>
<div class="even" style="left:1148.00px;top:376.68px;width:49.50px;height:15.10px;line-height:16.10px">4</div>
<div class="even" style="left:1199.00px;top:376.68px;width:57.50px;height:15.10px;line-height:16.10px">0</div>
<div class="even" style="left:1258.50px;top:376.68px;width:59.00px;height:15.10px;line-height:16.10px">0</div>
<div class="even" style="left:1319.00px;top:376.68px;width:49.50px;height:15.10px;line-height:16.10px">0</div>
<div class="even" style="left:1370.00px;top:376.68px;width:51.80px;height:15.10px;line-height:16.10px">2</div>
<div class="even" style="left:1423.20px;top:376.68px;width:51.80px;height:15.10px;line-height:16.10px">2</div>
<div class="even" style="left:1476.40px;top:376.68px;width:49.60px;height:15.10px;line-height:16.10px">-3</div>
<div class="even" style="left:1527.60px;top:376.68px;width:64.70px;height:15.10px;line-height:16.10px">5</div>
<div class="odd" style="left:17.00px;top:393.22px;width:37.00px;height:15.10px;line-height:16.10px"></div>
<div class="odd" style="left:55.50px;top:393.22px;width:37.50px;height:15.10px;line-height:16.10px">19</div>
<div class="odd nm" style="left:94.00px;top:393.22px;width:346.50px;height:15.10px;line-height:16.10px">J. VIGARA BOHM</div>
<div class="odd" style="left:442.00px;top:393.22px;width:90.50px;height:15.10px;line-height:16.10px">18:43</div>
<div class="odd" style="left:534.00px;top:393.22px;width:50.50px;height:15.10px;line-height:16.10px">10</div>
<div class="odd" style="left:586.00px;top:393.22px;width:78.00px;height:15.10px;line-height:16.10px">4/9</div>
<div class="odd" style="left:665.50px;top:393.22px;width:63.00px;height:15.10px;line-height:16.10px">0/2</div>
<div class="odd" style="left:730.00px;top:393.22px;width:78.00px;height:15.10px;line-height:16.10px">4/11</div>
<div class="odd" style="left:809.50px;top:393.22px;width:77.50px;height:15.10px;line-height:16.10px">2/2</div>
<div class="odd" style="left:888.00px;top:393.22px;width:50.50px;height:15.10px;line-height:16.10px">2</div>
<div class="odd" style="left:940.00px;top:393.22px;width:50.50px;height:15.10px;line-height:16.10px">1</div>
<div class="odd" style="left:992.00px;top:393.22px;width:50.50px;height:15.10px;line-height:16.10px">3</div>
<div class="odd" style="left:1044.00px;top:393.22px;width:50.00px;height:15.10px;line-height:16.10px">2</div>
<div class="odd" style="left:1095.50px;top:393.22px;width:51.00px;height:15.10px;line-height:16.10px">1</div>
<div class="odd" style="left:1148.00px;top:393.22px;width:49.50px;height:15.10px;line-height:16.10px">1</div>
<div class="odd" style="left:1199.00px;top:393.22px;width:57.50px;height:15.10px;line-height:16.10px">0</div>
<div class="odd" style="left:1258.50px;top:393.22px;width:59.00px;height:15.10px;line-height:16.10px">0</div>
<div class="odd" style="left:1319.00px;top:393.22px;width:49.50px;height:15.10px;line-height:16.10px">0</div>
<div class="odd" style="left:1370.00px;top:393.22px;width:51.80px;height:15.10px;line-height:16.10px">1</div>
<div class="odd" style="left:1423.20px;top:393.22px;width:51.80px;height:15.10px;line-height:16.10px">1</div>
<div class="odd" style="left:1476.40px;top:393.22px;width:49.60px;height:15.10px;line-height:16.10px">8</div>
<div class="odd" style="left:1527.60px;top:393.22px;width:64.70px;height:15.10px;line-height:16.10px">15</div>
<div class="even" style="left:17.00px;top:409.76px;width:37.00px;height:15.10px;line-height:16.10px"></div>
<div class="even" style="left:55.50px;top:409.76px;width:37.50px;height:15.10px;line-height:16.10px">21</div>
<div class="even nm" style="left:94.00px;top:409.76px;width:346.50px;height:15.10px;line-height:16.10px">J. RAMIREZ GUERRA-LIBRERO</div>
<div class="even" style="left:442.00px;top:409.76px;width:90.50px;height:15.10px;line-height:16.10px">01:20</div>
<div class="even" style="left:534.00px;top:409.76px;width:50.50px;height:15.10px;line-height:16.10px">1</div>
<div class="even" style="left:586.00px;top:409.76px;width:78.00px;height:15.10px;line-height:16.10px">0/0</div>
<div class="even" style="left:665.50px;top:409.76px;width:63.00px;height:15.10px;line-height:16.10px">0/0</div>
<div class="even" style="left:730.00px;top:409.76px;width:78.00px;height:15.10px;line-height:16.10px">0/0</div>
<div class="even" style="left:809.50px;top:409.76px;width:77.50px;height:15.10px;line-height:16.10px">1/2</div>
<div class="even" style="left:888.00px;top:409.76px;width:50.50px;height:15.10px;line-height:16.10px">0</div>
<div class="even" style="left:940.00px;top:409.76px;width:50.50px;height:15.10px;line-height:16.10px">1</div>
<div class="even" style="left:992.00px;top:409.76px;width:50.50px;height:15.10px;line-height:16.10px">1</div>
<div class="even" style="left:1044.00px;top:409.76px;width:50.00px;height:15.10px;line-height:16.10px">0</div>
<div class="even" style="left:1095.50px;top:409.76px;width:51.00px;height:15.10px;line-height:16.10px">0</div>
<div class="even" style="left:1148.00px;top:409.76px;width:49.50px;height:15.10px;line-height:16.10px">0</div>
<div class="even" style="left:1199.00px;top:409.76px;width:57.50px;height:15.10px;line-height:16.10px">0</div>
<div class="even" style="left:1258.50px;top:409.76px;width:59.00px;height:15.10px;line-height:16.10px">0</div>
<div class="even" style="left:1319.00px;top:409.76px;width:49.50px;height:15.10px;line-height:16.10px">0</div>
<div class="even" style="left:1370.00px;top:409.76px;width:51.80px;height:15.10px;line-height:16.10px">0</div>
<div class="even" style="left:1423.20px;top:409.76px;width:51.80px;height:15.10px;line-height:16.10px">1</div>
<div class="even" style="left:1476.40px;top:409.76px;width:49.60px;height:15.10px;line-height:16.10px">2</div>
<div class="even" style="left:1527.60px;top:409.76px;width:64.70px;height:15.10px;line-height:16.10px">1</div>
<div class="odd" style="left:17.00px;top:426.30px;width:37.00px;height:15.10px;line-height:16.10px"></div>
<div class="odd" style="left:55.50px;top:426.30px;width:37.50px;height:15.10px;line-height:16.10px">24</div>
<div class="odd nm" style="left:94.00px;top:426.30px;width:346.50px;height:15.10px;line-height:16.10px">D. TERRÓN FERNÁNDEZ</div>
<div class="odd" style="left:442.00px;top:426.30px;width:90.50px;height:15.10px;line-height:16.10px">12:31</div>
<div class="odd" style="left:534.00px;top:426.30px;width:50.50px;height:15.10px;line-height:16.10px">3</div>
<div class="odd" style="left:586.00px;top:426.30px;width:78.00px;height:15.10px;line-height:16.10px">0/0</div>
<div class="odd" style="left:665.50px;top:426.30px;width:63.00px;height:15.10px;line-height:16.10px">1/5</div>
<div class="odd" style="left:730.00px;top:426.30px;width:78.00px;height:15.10px;line-height:16.10px">1/5</div>
<div class="odd" style="left:809.50px;top:426.30px;width:77.50px;height:15.10px;line-height:16.10px">0/0</div>
<div class="odd" style="left:888.00px;top:426.30px;width:50.50px;height:15.10px;line-height:16.10px">0</div>
<div class="odd" style="left:940.00px;top:426.30px;width:50.50px;height:15.10px;line-height:16.10px">3</div>
<div class="odd" style="left:992.00px;top:426.30px;width:50.50px;height:15.10px;line-height:16.10px">3</div>
<div class="odd" style="left:1044.00px;top:426.30px;width:50.00px;height:15.10px;line-height:16.10px">0</div>
<div class="odd" style="left:1095.50px;top:426.30px;width:51.00px;height:15.10px;line-height:16.10px">0</div>
<div class="odd" style="left:1148.00px;top:426.30px;width:49.50px;height:15.10px;line-height:16.10px">1</div>
<div class="odd" style="left:1199.00px;top:426.30px;width:57.50px;height:15.10px;line-height:16.10px">0</div>
<div class="odd" style="left:1258.50px;top:426.30px;width:59.00px;height:15.10px;line-height:16.10px">0</div>
<div class="odd" style="left:1319.00px;top:426.30px;width:49.50px;height:15.10px;line-height:16.10px">0</div>
<div class="odd" style="left:1370.00px;top:426.30px;width:51.80px;height:15.10px;line-height:16.10px">0</div>
<div class="odd" style="left:1423.20px;top:426.30px;width:51.80px;height:15.10px;line-height:16.10px">1</div>
<div class="odd" style="left:1476.40px;top:426.30px;width:49.60px;height:15.10px;line-height:16.10px">2</div>
<div class="odd" style="left:1527.60px;top:426.30px;width:64.70px;height:15.10px;line-height:16.10px">-5</div>
<div class="even" style="left:17.00px;top:442.84px;width:37.00px;height:15.10px;line-height:16.10px"></div>
<div class="even" style="left:55.50px;top:442.84px;width:37.50px;height:15.10px;line-height:16.10px">35</div>
<div class="even nm" style="left:94.00px;top:442.84px;width:346.50px;height:15.10px;line-height:16.10px">D. CORTES ANDRADES</div>
<div class="even" style="left:442.00px;top:442.84px;width:90.50px;height:15.10px;line-height:16.10px">18:08</div>
<div class="even" style="left:534.00px;top:442.84px;width:50.50px;height:15.10px;line-height:16.10px">19</div>
<div class="even" style="left:586.00px;top:442.84px;width:78.00px;height:15.10px;line-height:16.10px">4/5</div>
<div class="even" style="left:665.50px;top:442.84px;width:63.00px;height:15.10px;line-height:16.10px">3/3</div>
<div class="even" style="left:730.00px;top:442.84px;width:78.00px;height:15.10px;line-height:16.10px">7/8</div>
<div class="even" style="left:809.50px;top:442.84px;width:77.50px;height:15.10px;line-height:16.10px">2/4</div>
<div class="even" style="left:888.00px;top:442.84px;width:50.50px;height:15.10px;line-height:16.10px">3</div>
<div class="even" style="left:940.00px;top:442.84px;width:50.50px;height:15.10px;line-height:16.10px">2</div>
<div class="even" style="left:992.00px;top:442.84px;width:50.50px;height:15.10px;line-height:16.10px">5</div>
<div class="even" style="left:1044.00px;top:442.84px;width:50.00px;height:15.10px;line-height:16.10px">0</div>
<div class="even" style="left:1095.50px;top:442.84px;width:51.00px;height:15.10px;line-height:16.10px">0</div>
<div class="even" style="left:1148.00px;top:442.84px;width:49.50px;height:15.10px;line-height:16.10px">1</div>
<div class="even" style="left:1199.00px;top:442.84px;width:57.50px;height:15.10px;line-height:16.10px">2</div>
<div class="even" style="left:1258.50px;top:442.84px;width:59.00px;height:15.10px;line-height:16.10px">0</div>
<div class="even" style="left:1319.00px;top:442.84px;width:49.50px;height:15.10px;line-height:16.10px">0</div>
<div class="even" style="left:1370.00px;top:442.84px;width:51.80px;height:15.10px;line-height:16.10px">2</div>
<div class="even" style="left:1423.20px;top:442.84px;width:51.80px;height:15.10px;line-height:16.10px">2</div>
<div class="even" style="left:1476.40px;top:442.84px;width:49.60px;height:15.10px;line-height:16.10px">22</div>
<div class="even" style="left:1527.60px;top:442.84px;width:64.70px;height:15.10px;line-height:16.10px">2</div>
<div style="position:absolute;left:17.00px;top:459.38px;width:1575.30px;height:15.10px;background:#e2f9ea"></div>
<div class="tot" style="left:17.00px;top:459.38px;width:37.00px;height:15.10px;line-height:16.10px"></div>
<div class="tot" style="left:55.50px;top:459.38px;width:37.50px;height:15.10px;line-height:16.10px"></div>
<div class="tot" style="left:94.00px;top:459.38px;width:346.50px;height:15.10px;line-height:16.10px"></div>
<div class="tot" style="left:442.00px;top:459.38px;width:90.50px;height:15.10px;line-height:16.10px">200:00</div>
<div class="tot" style="left:534.00px;top:459.38px;width:50.50px;height:15.10px;line-height:16.10px">61</div>
<div class="tot" style="left:586.00px;top:459.38px;width:78.00px;height:15.10px;line-height:16.10px">17/35</div>
<div class="tot" style="left:665.50px;top:459.38px;width:63.00px;height:15.10px;line-height:16.10px">5/27</div>
<div class="tot" style="left:730.00px;top:459.38px;width:78.00px;height:15.10px;line-height:16.10px">22/62</div>
<div class="tot" style="left:809.50px;top:459.38px;width:77.50px;height:15.10px;line-height:16.10px">12/18</div>
<div class="tot" style="left:888.00px;top:459.38px;width:50.50px;height:15.10px;line-height:16.10px">12</div>
<div class="tot" style="left:940.00px;top:459.38px;width:50.50px;height:15.10px;line-height:16.10px">30</div>
<div class="tot" style="left:992.00px;top:459.38px;width:50.50px;height:15.10px;line-height:16.10px">42</div>
<div class="tot" style="left:1044.00px;top:459.38px;width:50.00px;height:15.10px;line-height:16.10px">15</div>
<div class="tot" style="left:1095.50px;top:459.38px;width:51.00px;height:15.10px;line-height:16.10px">11</div>
<div class="tot" style="left:1148.00px;top:459.38px;width:49.50px;height:15.10px;line-height:16.10px">19</div>
<div class="tot" style="left:1199.00px;top:459.38px;width:57.50px;height:15.10px;line-height:16.10px">4</div>
<div class="tot" style="left:1258.50px;top:459.38px;width:59.00px;height:15.10px;line-height:16.10px">0</div>
<div class="tot" style="left:1319.00px;top:459.38px;width:49.50px;height:15.10px;line-height:16.10px">0</div>
<div class="tot" style="left:1370.00px;top:459.38px;width:51.80px;height:15.10px;line-height:16.10px">13</div>
<div class="tot" style="left:1423.20px;top:459.38px;width:51.80px;height:15.10px;line-height:16.10px">17</div>
<div class="tot" style="left:1476.40px;top:459.38px;width:49.60px;height:15.10px;line-height:16.10px">72</div>
<div class="tot" style="left:1527.60px;top:459.38px;width:64.70px;height:15.10px;line-height:16.10px"></div>
<div class="sec" style="top:478.80px">OH!TELS ULB</div>
<div class="sup" style="left:850.00px;top:507.20px;width:162.50px;height:18.60px;line-height:20.60px">REBOTES</div>
<div class="sup" style="left:1178.20px;top:507.20px;width:123.40px;height:18.60px;line-height:20.60px">TAPONES</div>
<div class="sup" style="left:1358.50px;top:507.20px;width:110.10px;height:18.60px;line-height:20.60px">FALTAS</div>
<div class="hd" style="left:17.00px;top:527.30px;width:39.00px;height:18.60px;line-height:20.60px">I</div>
<div class="hd" style="left:58.00px;top:527.30px;width:38.50px;height:18.60px;line-height:20.60px">D</div>
<div class="hd" style="left:98.00px;top:527.30px;width:294.00px;height:18.60px;line-height:20.60px">JUGADOR</div>
<div class="hd" style="left:394.00px;top:527.30px;width:95.00px;height:18.60px;line-height:20.60px">MIN</div>
<div class="hd" style="left:491.00px;top:527.30px;width:52.75px;height:18.60px;line-height:20.60px">PT</div>
<div class="hd" style="left:546.00px;top:527.30px;width:80.75px;height:18.60px;line-height:20.60px">T2</div>
<div class="hd" style="left:628.50px;top:527.30px;width:68.00px;height:18.60px;line-height:20.60px">T3</div>
<div class="hd" style="left:698.25px;top:527.30px;width:81.25px;height:18.60px;line-height:20.60px">TC</div>
<div class="hd" style="left:781.00px;top:527.30px;width:67.75px;height:18.60px;line-height:20.60px">TL</div>
<div class="hd" style="left:850.00px;top:527.30px;width:53.00px;height:18.60px;line-height:20.60px">RO</div>
<div class="hd" style="left:904.50px;top:527.30px;width:53.00px;height:18.60px;line-height:20.60px">RD</div>
<div class="hd" style="left:959.00px;top:527.30px;width:53.50px;height:18.60px;line-height:20.60px">RT</div>
<div class="hd" style="left:1014.25px;top:527.30px;width:53.25px;height:18.60px;line-height:20.60px">AS</div>
<div class="hd" style="left:1069.00px;top:527.30px;width:52.75px;height:18.60px;line-height:20.60px">BR</div>
<div class="hd" style="left:1123.00px;top:527.30px;width:53.80px;height:18.60px;line-height:20.60px">BP</div>
<div class="hd" style="left:1178.20px;top:527.30px;width:61.00px;height:18.60px;line-height:20.60px">TF</div>
<div class="hd" style="left:1241.20px;top:527.30px;width:60.40px;height:18.60px;line-height:20.60px">TC</div>
<div class="hd" style="left:1303.00px;top:527.30px;width:53.50px;height:18.60px;line-height:20.60px">MT</div>
<div class="hd" style="left:1358.50px;top:527.30px;width:54.10px;height:18.60px;line-height:20.60px">FC</div>
<div class="hd" style="left:1414.00px;top:527.30px;width:54.60px;height:18.60px;line-height:20.60px">FR</div>
<div class="hd" style="left:1470.00px;top:527.30px;width:52.40px;height:18.60px;line-height:20.60px">VA</div>
<div class="hd" style="left:1524.40px;top:527.30px;width:67.60px;height:18.60px;line-height:20.60px">+/-</div>
<div class="odd" style="left:17.00px;top:547.90px;width:39.00px;height:15.10px;line-height:16.10px"></div>
<div class="odd" style="left:58.00px;top:547.90px;width:38.50px;height:15.10px;line-height:16.10px">7</div>
<div class="odd nm" style="left:98.00px;top:547.90px;width:294.00px;height:15.10px;line-height:16.10px">T. ABDOULAYE</div>
<div class="odd" style="left:394.00px;top:547.90px;width:95.00px;height:15.10px;line-height:16.10px">16:43</div>
<div class="odd" style="left:491.00px;top:547.90px;width:52.75px;height:15.10px;line-height:16.10px">4</div>
<div class="odd" style="left:546.00px;top:547.90px;width:80.75px;height:15.10px;line-height:16.10px">2/6</div>
<div class="odd" style="left:628.50px;top:547.90px;width:68.00px;height:15.10px;line-height:16.10px">0/0</div>
<div class="odd" style="left:698.25px;top:547.90px;width:81.25px;height:15.10px;line-height:16.10px">2/6</div>
<div class="odd" style="left:781.00px;top:547.90px;width:67.75px;height:15.10px;line-height:16.10px">0/4</div>
<div class="odd" style="left:850.00px;top:547.90px;width:53.00px;height:15.10px;line-height:16.10px">2</div>
<div class="odd" style="left:904.50px;top:547.90px;width:53.00px;height:15.10px;line-height:16.10px">3</div>
<div class="odd" style="left:959.00px;top:547.90px;width:53.50px;height:15.10px;line-height:16.10px">5</div>
<div class="odd" style="left:1014.25px;top:547.90px;width:53.25px;height:15.10px;line-height:16.10px">0</div>
<div class="odd" style="left:1069.00px;top:547.90px;width:52.75px;height:15.10px;line-height:16.10px">1</div>
<div class="odd" style="left:1123.00px;top:547.90px;width:53.80px;height:15.10px;line-height:16.10px">2</div>
<div class="odd" style="left:1178.20px;top:547.90px;width:61.00px;height:15.10px;line-height:16.10px">0</div>
<div class="odd" style="left:1241.20px;top:547.90px;width:60.40px;height:15.10px;line-height:16.10px">1</div>
<div class="odd" style="left:1303.00px;top:547.90px;width:53.50px;height:15.10px;line-height:16.10px">1</div>
<div class="odd" style="left:1358.50px;top:547.90px;width:54.10px;height:15.10px;line-height:16.10px">3</div>
<div class="odd" style="left:1414.00px;top:547.90px;width:54.60px;height:15.10px;line-height:16.10px">4</div>
<div class="odd" style="left:1470.00px;top:547.90px;width:52.40px;height:15.10px;line-height:16.10px">1</div>
<div class="odd" style="left:1524.40px;top:547.90px;width:67.60px;height:15.10px;line-height:16.10px">-1</div>
<div class="even" style="left:17.00px;top:564.42px;width:39.00px;height:15.10px;line-height:16.10px"></div>
<div class="even" style="left:58.00px;top:564.42px;width:38.50px;height:15.10px;line-height:16.10px">8</div>
<div class="even nm" style="left:98.00px;top:564.42px;width:294.00px;height:15.10px;line-height:16.10px">A. CABALLERO ROMERO</div>
<div class="even" style="left:394.00px;top:564.42px;width:95.00px;height:15.10px;line-height:16.10px">05:13</div>
<div class="even" style="left:491.00px;top:564.42px;width:52.75px;height:15.10px;line-height:16.10px">2</div>
<div class="even" style="left:546.00px;top:564.42px;width:80.75px;height:15.10px;line-height:16.10px">1/2</div>
<div class="even" style="left:628.50px;top:564.42px;width:68.00px;height:15.10px;line-height:16.10px">0/0</div>
<div class="even" style="left:698.25px;top:564.42px;width:81.25px;height:15.10px;line-height:16.10px">1/2</div>
<div class="even" style="left:781.00px;top:564.42px;width:67.75px;height:15.10px;line-height:16.10px">0/0</div>
<div class="even" style="left:850.00px;top:564.42px;width:53.00px;height:15.10px;line-height:16.10px">0</div>
<div class="even" style="left:904.50px;top:564.42px;width:53.00px;height:15.10px;line-height:16.10px">0</div>
<div class="even" style="left:959.00px;top:564.42px;width:53.50px;height:15.10px;line-height:16.10px">0</div>
<div class="even" style="left:1014.25px;top:564.42px;width:53.25px;height:15.10px;line-height:16.10px">0</div>
<div class="even" style="left:1069.00px;top:564.42px;width:52.75px;height:15.10px;line-height:16.10px">0</div>
<div class="even" style="left:1123.00px;top:564.42px;width:53.80px;height:15.10px;line-height:16.10px">0</div>
<div class="even" style="left:1178.20px;top:564.42px;width:61.00px;height:15.10px;line-height:16.10px">0</div>
<div class="even" style="left:1241.20px;top:564.42px;width:60.40px;height:15.10px;line-height:16.10px">0</div>
<div class="even" style="left:1303.00px;top:564.42px;width:53.50px;height:15.10px;line-height:16.10px">0</div>
<div class="even" style="left:1358.50px;top:564.42px;width:54.10px;height:15.10px;line-height:16.10px">2</div>
<div class="even" style="left:1414.00px;top:564.42px;width:54.60px;height:15.10px;line-height:16.10px">0</div>
<div class="even" style="left:1470.00px;top:564.42px;width:52.40px;height:15.10px;line-height:16.10px">-1</div>
<div class="even" style="left:1524.40px;top:564.42px;width:67.60px;height:15.10px;line-height:16.10px">-4</div>
<div class="odd" style="left:17.00px;top:580.94px;width:39.00px;height:15.10px;line-height:16.10px"></div>
<div class="odd" style="left:58.00px;top:580.94px;width:38.50px;height:15.10px;line-height:16.10px">9</div>
<div class="odd nm" style="left:98.00px;top:580.94px;width:294.00px;height:15.10px;line-height:16.10px">R. PEREA GONZALEZ</div>
<div class="odd" style="left:394.00px;top:580.94px;width:95.00px;height:15.10px;line-height:16.10px">27:33</div>
<div class="odd" style="left:491.00px;top:580.94px;width:52.75px;height:15.10px;line-height:16.10px">5</div>
<div class="odd" style="left:546.00px;top:580.94px;width:80.75px;height:15.10px;line-height:16.10px">1/4</div>
<div class="odd" style="left:628.50px;top:580.94px;width:68.00px;height:15.10px;line-height:16.10px">1/6</div>
<div class="odd" style="left:698.25px;top:580.94px;width:81.25px;height:15.10px;line-height:16.10px">2/10</div>
<div class="odd" style="left:781.00px;top:580.94px;width:67.75px;height:15.10px;line-height:16.10px">0/0</div>
<div class="odd" style="left:850.00px;top:580.94px;width:53.00px;height:15.10px;line-height:16.10px">1</div>
<div class="odd" style="left:904.50px;top:580.94px;width:53.00px;height:15.10px;line-height:16.10px">3</div>
<div class="odd" style="left:959.00px;top:580.94px;width:53.50px;height:15.10px;line-height:16.10px">4</div>
<div class="odd" style="left:1014.25px;top:580.94px;width:53.25px;height:15.10px;line-height:16.10px">2</div>
<div class="odd" style="left:1069.00px;top:580.94px;width:52.75px;height:15.10px;line-height:16.10px">3</div>
<div class="odd" style="left:1123.00px;top:580.94px;width:53.80px;height:15.10px;line-height:16.10px">2</div>
<div class="odd" style="left:1178.20px;top:580.94px;width:61.00px;height:15.10px;line-height:16.10px">0</div>
<div class="odd" style="left:1241.20px;top:580.94px;width:60.40px;height:15.10px;line-height:16.10px">0</div>
<div class="odd" style="left:1303.00px;top:580.94px;width:53.50px;height:15.10px;line-height:16.10px">0</div>
<div class="odd" style="left:1358.50px;top:580.94px;width:54.10px;height:15.10px;line-height:16.10px">2</div>
<div class="odd" style="left:1414.00px;top:580.94px;width:54.60px;height:15.10px;line-height:16.10px">0</div>
<div class="odd" style="left:1470.00px;top:580.94px;width:52.40px;height:15.10px;line-height:16.10px">2</div>
<div class="odd" style="left:1524.40px;top:580.94px;width:67.60px;height:15.10px;line-height:16.10px">-8</div>
<div class="even" style="left:17.00px;top:597.46px;width:39.00px;height:15.10px;line-height:16.10px">*</div>
<div class="even" style="left:58.00px;top:597.46px;width:38.50px;height:15.10px;line-height:16.10px">10</div>
<div class="even nm" style="left:98.00px;top:597.46px;width:294.00px;height:15.10px;line-height:16.10px">T. YOME</div>
<div class="even" style="left:394.00px;top:597.46px;width:95.00px;height:15.10px;line-height:16.10px">27:27</div>
<div class="even" style="left:491.00px;top:597.46px;width:52.75px;height:15.10px;line-height:16.10px">2</div>
<div class="even" style="left:546.00px;top:597.46px;width:80.75px;height:15.10px;line-height:16.10px">1/4</div>
<div class="even" style="left:628.50px;top:597.46px;width:68.00px;height:15.10px;line-height:16.10px">0/0</div>
<div class="even" style="left:698.25px;top:597.46px;width:81.25px;height:15.10px;line-height:16.10px">1/4</div>
<div class="even" style="left:781.00px;top:597.46px;width:67.75px;height:15.10px;line-height:16.10px">0/2</div>
<div class="even" style="left:850.00px;top:597.46px;width:53.00px;height:15.10px;line-height:16.10px">0</div>
<div class="even" style="left:904.50px;top:597.46px;width:53.00px;height:15.10px;line-height:16.10px">1</div>
<div class="even" style="left:959.00px;top:597.46px;width:53.50px;height:15.10px;line-height:16.10px">1</div>
<div class="even" style="left:1014.25px;top:597.46px;width:53.25px;height:15.10px;line-height:16.10px">2</div>
<div class="even" style="left:1069.00px;top:597.46px;width:52.75px;height:15.10px;line-height:16.10px">1</div>
<div class="even" style="left:1123.00px;top:597.46px;width:53.80px;height:15.10px;line-height:16.10px">1</div>
<div class="even" style="left:1178.20px;top:597.46px;width:61.00px;height:15.10px;line-height:16.10px">0</div>
<div class="even" style="left:1241.20px;top:597.46px;width:60.40px;height:15.10px;line-height:16.10px">1</div>
<div class="even" style="left:1303.00px;top:597.46px;width:53.50px;height:15.10px;line-height:16.10px">0</div>
<div class="even" style="left:1358.50px;top:597.46px;width:54.10px;height:15.10px;line-height:16.10px">1</div>
<div class="even" style="left:1414.00px;top:597.46px;width:54.60px;height:15.10px;line-height:16.10px">1</div>
<div class="even" style="left:1470.00px;top:597.46px;width:52.40px;height:15.10px;line-height:16.10px">0</div>
<div class="even" style="left:1524.40px;top:597.46px;width:67.60px;height:15.10px;line-height:16.10px">-18</div>
<div class="odd" style="left:17.00px;top:613.98px;width:39.00px;height:15.10px;line-height:16.10px"></div>
<div class="odd" style="left:58.00px;top:613.98px;width:38.50px;height:15.10px;line-height:16.10px">12</div>
<div class="odd nm" style="left:98.00px;top:613.98px;width:294.00px;height:15.10px;line-height:16.10px">M. EL YETTEFTI</div>
<div class="odd" style="left:394.00px;top:613.98px;width:95.00px;height:15.10px;line-height:16.10px">01:44</div>
<div class="odd" style="left:491.00px;top:613.98px;width:52.75px;height:15.10px;line-height:16.10px">0</div>
<div class="odd" style="left:546.00px;top:613.98px;width:80.75px;height:15.10px;line-height:16.10px">0/0</div>
<div class="odd" style="left:628.50px;top:613.98px;width:68.00px;height:15.10px;line-height:16.10px">0/0</div>
<div class="odd" style="left:698.25px;top:613.98px;width:81.25px;height:15.10px;line-height:16.10px">0/0</div>
<div class="odd" style="left:781.00px;top:613.98px;width:67.75px;height:15.10px;line-height:16.10px">0/0</div>
<div class="odd" style="left:850.00px;top:613.98px;width:53.00px;height:15.10px;line-height:16.10px">0</div>
<div class="odd" style="left:904.50px;top:613.98px;width:53.00px;height:15.10px;line-height:16.10px">0</div>
<div class="odd" style="left:959.00px;top:613.98px;width:53.50px;height:15.10px;line-height:16.10px">0</div>
<div class="odd" style="left:1014.25px;top:613.98px;width:53.25px;height:15.10px;line-height:16.10px">0</div>
<div class="odd" style="left:1069.00px;top:613.98px;width:52.75px;height:15.10px;line-height:16.10px">0</div>
<div class="odd" style="left:1123.00px;top:613.98px;width:53.80px;height:15.10px;line-height:16.10px">0</div>
<div class="odd" style="left:1178.20px;top:613.98px;width:61.00px;height:15.10px;line-height:16.10px">0</div>
<div class="odd" style="left:1241.20px;top:613.98px;width:60.40px;height:15.10px;line-height:16.10px">0</div>
<div class="odd" style="left:1303.00px;top:613.98px;width:53.50px;height:15.10px;line-height:16.10px">0</div>
<div class="odd" style="left:1358.50px;top:613.98px;width:54.10px;height:15.10px;line-height:16.10px">0</div>
<div class="odd" style="left:1414.00px;top:613.98px;width:54.60px;height:15.10px;line-height:16.10px">0</div>
<div class="odd" style="left:1470.00px;top:613.98px;width:52.40px;height:15.10px;line-height:16.10px">0</div>
<div class="odd" style="left:1524.40px;top:613.98px;width:67.60px;height:15.10px;line-height:16.10px">-1</div>
<div class="even" style="left:17.00px;top:630.50px;width:39.00px;height:15.10px;line-height:16.10px"></div>
<div class="even" style="left:58.00px;top:630.50px;width:38.50px;height:15.10px;line-height:16.10px">15</div>
<div class="even nm" style="left:98.00px;top:630.50px;width:294.00px;height:15.10px;line-height:16.10px">D. ESPADIÑA CORCHERO</div>
<div class="even" style="left:394.00px;top:630.50px;width:95.00px;height:15.10px;line-height:16.10px">06:25</div>
<div class="even" style="left:491.00px;top:630.50px;width:52.75px;height:15.10px;line-height:16.10px">2</div>
<div class="even" style="left:546.00px;top:630.50px;width:80.75px;height:15.10px;line-height:16.10px">1/1</div>
<div class="even" style="left:628.50px;top:630.50px;width:68.00px;height:15.10px;line-height:16.10px">0/0</div>
<div class="even" style="left:698.25px;top:630.50px;width:81.25px;height:15.10px;line-height:16.10px">1/1</div>
<div class="even" style="left:781.00px;top:630.50px;width:67.75px;height:15.10px;line-height:16.10px">0/0</div>
<div class="even" style="left:850.00px;top:630.50px;width:53.00px;height:15.10px;line-height:16.10px">0</div>
<div class="even" style="left:904.50px;top:630.50px;width:53.00px;height:15.10px;line-height:16.10px">0</div>
<div class="even" style="left:959.00px;top:630.50px;width:53.50px;height:15.10px;line-height:16.10px">0</div>
<div class="even" style="left:1014.25px;top:630.50px;width:53.25px;height:15.10px;line-height:16.10px">0</div>
<div class="even" style="left:1069.00px;top:630.50px;width:52.75px;height:15.10px;line-height:16.10px">0</div>
<div class="even" style="left:1123.00px;top:630.50px;width:53.80px;height:15.10px;line-height:16.10px">0</div>
<div class="even" style="left:1178.20px;top:630.50px;width:61.00px;height:15.10px;line-height:16.10px">0</div>
<div class="even" style="left:1241.20px;top:630.50px;width:60.40px;height:15.10px;line-height:16.10px">0</div>
<div class="even" style="left:1303.00px;top:630.50px;width:53.50px;height:15.10px;line-height:16.10px">0</div>
<div class="even" style="left:1358.50px;top:630.50px;width:54.10px;height:15.10px;line-height:16.10px">0</div>
<div class="even" style="left:1414.00px;top:630.50px;width:54.60px;height:15.10px;line-height:16.10px">0</div>
<div class="even" style="left:1470.00px;top:630.50px;width:52.40px;height:15.10px;line-height:16.10px">2</div>
<div class="even" style="left:1524.40px;top:630.50px;width:67.60px;height:15.10px;line-height:16.10px">-3</div>
<div class="odd" style="left:17.00px;top:647.02px;width:39.00px;height:15.10px;line-height:16.10px"></div>
<div class="odd" style="left:58.00px;top:647.02px;width:38.50px;height:15.10px;line-height:16.10px">20</div>
<div class="odd nm" style="left:98.00px;top:647.02px;width:294.00px;height:15.10px;line-height:16.10px">A. MATEOS PEÑA</div>
<div class="odd" style="left:394.00px;top:647.02px;width:95.00px;height:15.10px;line-height:16.10px">07:56</div>
<div class="odd" style="left:491.00px;top:647.02px;width:52.75px;height:15.10px;line-height:16.10px">0</div>
<div class="odd" style="left:546.00px;top:647.02px;width:80.75px;height:15.10px;line-height:16.10px">0/1</div>
<div class="odd" style="left:628.50px;top:647.02px;width:68.00px;height:15.10px;line-height:16.10px">0/2</div>
<div class="odd" style="left:698.25px;top:647.02px;width:81.25px;height:15.10px;line-height:16.10px">0/3</div>
<div class="odd" style="left:781.00px;top:647.02px;width:67.75px;height:15.10px;line-height:16.10px">0/0</div>
<div class="odd" style="left:850.00px;top:647.02px;width:53.00px;height:15.10px;line-height:16.10px">0</div>
<div class="odd" style="left:904.50px;top:647.02px;width:53.00px;height:15.10px;line-height:16.10px">1</div>
<div class="odd" style="left:959.00px;top:647.02px;width:53.50px;height:15.10px;line-height:16.10px">1</div>
<div class="odd" style="left:1014.25px;top:647.02px;width:53.25px;height:15.10px;line-height:16.10px">0</div>
<div class="odd" style="left:1069.00px;top:647.02px;width:52.75px;height:15.10px;line-height:16.10px">0</div>
<div class="odd" style="left:1123.00px;top:647.02px;width:53.80px;height:15.10px;line-height:16.10px">1</div>
<div class="odd" style="left:1178.20px;top:647.02px;width:61.00px;height:15.10px;line-height:16.10px">0</div>
<div class="odd" style="left:1241.20px;top:647.02px;width:60.40px;height:15.10px;line-height:16.10px">0</div>
<div class="odd" style="left:1303.00px;top:647.02px;width:53.50px;height:15.10px;line-height:16.10px">0</div>
<div class="odd" style="left:1358.50px;top:647.02px;width:54.10px;height:15.10px;line-height:16.10px">0</div>
<div class="odd" style="left:1414.00px;top:647.02px;width:54.60px;height:15.10px;line-height:16.10px">0</div>
<div class="odd" style="left:1470.00px;top:647.02px;width:52.40px;height:15.10px;line-height:16.10px">-3</div>
<div class="odd" style="left:1524.40px;top:647.02px;width:67.60px;height:15.10px;line-height:16.10px">-5</div>
<div class="even" style="left:17.00px;top:663.54px;width:39.00px;height:15.10px;line-height:16.10px">*</div>
<div class="even" style="left:58.00px;top:663.54px;width:38.50px;height:15.10px;line-height:16.10px">21</div>
<div class="even nm" style="left:98.00px;top:663.54px;width:294.00px;height:15.10px;line-height:16.10px">L. FURLAN</div>
<div class="even" style="left:394.00px;top:663.54px;width:95.00px;height:15.10px;line-height:16.10px">28:03</div>
<div class="even" style="left:491.00px;top:663.54px;width:52.75px;height:15.10px;line-height:16.10px">15</div>
<div class="even" style="left:546.00px;top:663.54px;width:80.75px;height:15.10px;line-height:16.10px">6/14</div>
<div class="even" style="left:628.50px;top:663.54px;width:68.00px;height:15.10px;line-height:16.10px">1/2</div>
<div class="even" style="left:698.25px;top:663.54px;width:81.25px;height:15.10px;line-height:16.10px">7/16</div>
<div class="even" style="left:781.00px;top:663.54px;width:67.75px;height:15.10px;line-height:16.10px">0/0</div>
<div class="even" style="left:850.00px;top:663.54px;width:53.00px;height:15.10px;line-height:16.10px">1</div>
<div class="even" style="left:904.50px;top:663.54px;width:53.00px;height:15.10px;line-height:16.10px">4</div>
<div class="even" style="left:959.00px;top:663.54px;width:53.50px;height:15.10px;line-height:16.10px">5</div>
<div class="even" style="left:1014.25px;top:663.54px;width:53.25px;height:15.10px;line-height:16.10px">1</div>
<div class="even" style="left:1069.00px;top:663.54px;width:52.75px;height:15.10px;line-height:16.10px">0</div>
<div class="even" style="left:1123.00px;top:663.54px;width:53.80px;height:15.10px;line-height:16.10px">2</div>
<div class="even" style="left:1178.20px;top:663.54px;width:61.00px;height:15.10px;line-height:16.10px">0</div>
<div class="even" style="left:1241.20px;top:663.54px;width:60.40px;height:15.10px;line-height:16.10px">1</div>
<div class="even" style="left:1303.00px;top:663.54px;width:53.50px;height:15.10px;line-height:16.10px">0</div>
<div class="even" style="left:1358.50px;top:663.54px;width:54.10px;height:15.10px;line-height:16.10px">2</div>
<div class="even" style="left:1414.00px;top:663.54px;width:54.60px;height:15.10px;line-height:16.10px">2</div>
<div class="even" style="left:1470.00px;top:663.54px;width:52.40px;height:15.10px;line-height:16.10px">10</div>
<div class="even" style="left:1524.40px;top:663.54px;width:67.60px;height:15.10px;line-height:16.10px">-11</div>
<div class="odd" style="left:17.00px;top:680.06px;width:39.00px;height:15.10px;line-height:16.10px"></div>
<div class="odd" style="left:58.00px;top:680.06px;width:38.50px;height:15.10px;line-height:16.10px">22</div>
<div class="odd nm" style="left:98.00px;top:680.06px;width:294.00px;height:15.10px;line-height:16.10px">I. KANE</div>
<div class="odd" style="left:394.00px;top:680.06px;width:95.00px;height:15.10px;line-height:16.10px">10:28</div>
<div class="odd" style="left:491.00px;top:680.06px;width:52.75px;height:15.10px;line-height:16.10px">2</div>
<div class="odd" style="left:546.00px;top:680.06px;width:80.75px;height:15.10px;line-height:16.10px">1/2</div>
<div class="odd" style="left:628.50px;top:680.06px;width:68.00px;height:15.10px;line-height:16.10px">0/1</div>
<div class="odd" style="left:698.25px;top:680.06px;width:81.25px;height:15.10px;line-height:16.10px">1/3</div>
<div class="odd" style="left:781.00px;top:680.06px;width:67.75px;height:15.10px;line-height:16.10px">0/0</div>
<div class="odd" style="left:850.00px;top:680.06px;width:53.00px;height:15.10px;line-height:16.10px">0</div>
<div class="odd" style="left:904.50px;top:680.06px;width:53.00px;height:15.10px;line-height:16.10px">1</div>
<div class="odd" style="left:959.00px;top:680.06px;width:53.50px;height:15.10px;line-height:16.10px">1</div>
<div class="odd" style="left:1014.25px;top:680.06px;width:53.25px;height:15.10px;line-height:16.10px">3</div>
<div class="odd" style="left:1069.00px;top:680.06px;width:52.75px;height:15.10px;line-height:16.10px">0</div>
<div class="odd" style="left:1123.00px;top:680.06px;width:53.80px;height:15.10px;line-height:16.10px">1</div>
<div class="odd" style="left:1178.20px;top:680.06px;width:61.00px;height:15.10px;line-height:16.10px">0</div>
<div class="odd" style="left:1241.20px;top:680.06px;width:60.40px;height:15.10px;line-height:16.10px">1</div>
<div class="odd" style="left:1303.00px;top:680.06px;width:53.50px;height:15.10px;line-height:16.10px">0</div>
<div class="odd" style="left:1358.50px;top:680.06px;width:54.10px;height:15.10px;line-height:16.10px">1</div>
<div class="odd" style="left:1414.00px;top:680.06px;width:54.60px;height:15.10px;line-height:16.10px">0</div>
<div class="odd" style="left:1470.00px;top:680.06px;width:52.40px;height:15.10px;line-height:16.10px">2</div>
<div class="odd" style="left:1524.40px;top:680.06px;width:67.60px;height:15.10px;line-height:16.10px">-3</div>
<div class="even" style="left:17.00px;top:696.58px;width:39.00px;height:15.10px;line-height:16.10px">*</div>
<div class="even" style="left:58.00px;top:696.58px;width:38.50px;height:15.10px;line-height:16.10px">23</div>
<div class="even nm" style="left:98.00px;top:696.58px;width:294.00px;height:15.10px;line-height:16.10px">J. LOPEZ MUÑOZ</div>
<div class="even" style="left:394.00px;top:696.58px;width:95.00px;height:15.10px;line-height:16.10px">32:22</div>
<div class="even" style="left:491.00px;top:696.58px;width:52.75px;height:15.10px;line-height:16.10px">8</div>
<div class="even" style="left:546.00px;top:696.58px;width:80.75px;height:15.10px;line-height:16.10px">3/5</div>
<div class="even" style="left:628.50px;top:696.58px;width:68.00px;height:15.10px;line-height:16.10px">0/2</div>
<div class="even" style="left:698.25px;top:696.58px;width:81.25px;height:15.10px;line-height:16.10px">3/7</div>
<div class="even" style="left:781.00px;top:696.58px;width:67.75px;height:15.10px;line-height:16.10px">2/4</div>
<div class="even" style="left:850.00px;top:696.58px;width:53.00px;height:15.10px;line-height:16.10px">1</div>
<div class="even" style="left:904.50px;top:696.58px;width:53.00px;height:15.10px;line-height:16.10px">2</div>
<div class="even" style="left:959.00px;top:696.58px;width:53.50px;height:15.10px;line-height:16.10px">3</div>
<div class="even" style="left:1014.25px;top:696.58px;width:53.25px;height:15.10px;line-height:16.10px">0</div>
<div class="even" style="left:1069.00px;top:696.58px;width:52.75px;height:15.10px;line-height:16.10px">2</div>
<div class="even" style="left:1123.00px;top:696.58px;width:53.80px;height:15.10px;line-height:16.10px">5</div>
<div class="even" style="left:1178.20px;top:696.58px;width:61.00px;height:15.10px;line-height:16.10px">0</div>
<div class="even" style="left:1241.20px;top:696.58px;width:60.40px;height:15.10px;line-height:16.10px">0</div>
<div class="even" style="left:1303.00px;top:696.58px;width:53.50px;height:15.10px;line-height:16.10px">0</div>
<div class="even" style="left:1358.50px;top:696.58px;width:54.10px;height:15.10px;line-height:16.10px">1</div>
<div class="even" style="left:1414.00px;top:696.58px;width:54.60px;height:15.10px;line-height:16.10px">5</div>
<div class="even" style="left:1470.00px;top:696.58px;width:52.40px;height:15.10px;line-height:16.10px">6</div>
<div class="even" style="left:1524.40px;top:696.58px;width:67.60px;height:15.10px;line-height:16.10px">-5</div>
<div class="odd" style="left:17.00px;top:713.10px;width:39.00px;height:15.10px;line-height:16.10px">*</div>
<div class="odd" style="left:58.00px;top:713.10px;width:38.50px;height:15.10px;line-height:16.10px">30</div>
<div class="odd nm" style="left:98.00px;top:713.10px;width:294.00px;height:15.10px;line-height:16.10px">A. DIAZ ROLLANO</div>
<div class="odd" style="left:394.00px;top:713.10px;width:95.00px;height:15.10px;line-height:16.10px">23:45</div>
<div class="odd" style="left:491.00px;top:713.10px;width:52.75px;height:15.10px;line-height:16.10px">6</div>
<div class="odd" style="left:546.00px;top:713.10px;width:80.75px;height:15.10px;line-height:16.10px">3/7</div>
<div class="odd" style="left:628.50px;top:713.10px;width:68.00px;height:15.10px;line-height:16.10px">0/1</div>
<div class="odd" style="left:698.25px;top:713.10px;width:81.25px;height:15.10px;line-height:16.10px">3/8</div>
<div class="odd" style="left:781.00px;top:713.10px;width:67.75px;height:15.10px;line-height:16.10px">0/2</div>
<div class="odd" style="left:850.00px;top:713.10px;width:53.00px;height:15.10px;line-height:16.10px">1</div>
<div class="odd" style="left:904.50px;top:713.10px;width:53.00px;height:15.10px;line-height:16.10px">5</div>
<div class="odd" style="left:959.00px;top:713.10px;width:53.50px;height:15.10px;line-height:16.10px">6</div>
<div class="odd" style="left:1014.25px;top:713.10px;width:53.25px;height:15.10px;line-height:16.10px">0</div>
<div class="odd" style="left:1069.00px;top:713.10px;width:52.75px;height:15.10px;line-height:16.10px">4</div>
<div class="odd" style="left:1123.00px;top:713.10px;width:53.80px;height:15.10px;line-height:16.10px">0</div>
<div class="odd" style="left:1178.20px;top:713.10px;width:61.00px;height:15.10px;line-height:16.10px">0</div>
<div class="odd" style="left:1241.20px;top:713.10px;width:60.40px;height:15.10px;line-height:16.10px">0</div>
<div class="odd" style="left:1303.00px;top:713.10px;width:53.50px;height:15.10px;line-height:16.10px">1</div>
<div class="odd" style="left:1358.50px;top:713.10px;width:54.10px;height:15.10px;line-height:16.10px">5</div>
<div class="odd" style="left:1414.00px;top:713.10px;width:54.60px;height:15.10px;line-height:16.10px">1</div>
<div class="odd" style="left:1470.00px;top:713.10px;width:52.40px;height:15.10px;line-height:16.10px">5</div>
<div class="odd" style="left:1524.40px;top:713.10px;width:67.60px;height:15.10px;line-height:16.10px">-7</div>
<div class="even" style="left:17.00px;top:729.62px;width:39.00px;height:15.10px;line-height:16.10px">*</div>
<div class="even" style="left:58.00px;top:729.62px;width:38.50px;height:15.10px;line-height:16.10px">33</div>
<div class="even nm" style="left:98.00px;top:729.62px;width:294.00px;height:15.10px;line-height:16.10px">A. VALOR LARA</div>
<div class="even" style="left:394.00px;top:729.62px;width:95.00px;height:15.10px;line-height:16.10px">12:21</div>
<div class="even" style="left:491.00px;top:729.62px;width:52.75px;height:15.10px;line-height:16.10px">0</div>
<div class="even" style="left:546.00px;top:729.62px;width:80.75px;height:15.10px;line-height:16.10px">0/1</div>
<div class="even" style="left:628.50px;top:729.62px;width:68.00px;height:15.10px;line-height:16.10px">0/0</div>
<div class="even" style="left:698.25px;top:729.62px;width:81.25px;height:15.10px;line-height:16.10px">0/1</div>
<div class="even" style="left:781.00px;top:729.62px;width:67.75px;height:15.10px;line-height:16.10px">0/0</div>
<div class="even" style="left:850.00px;top:729.62px;width:53.00px;height:15.10px;line-height:16.10px">0</div>
<div class="even" style="left:904.50px;top:729.62px;width:53.00px;height:15.10px;line-height:16.10px">2</div>
<div class="even" style="left:959.00px;top:729.62px;width:53.50px;height:15.10px;line-height:16.10px">2</div>
<div class="even" style="left:1014.25px;top:729.62px;width:53.25px;height:15.10px;line-height:16.10px">0</div>
<div class="even" style="left:1069.00px;top:729.62px;width:52.75px;height:15.10px;line-height:16.10px">1</div>
<div class="even" style="left:1123.00px;top:729.62px;width:53.80px;height:15.10px;line-height:16.10px">1</div>
<div class="even" style="left:1178.20px;top:729.62px;width:61.00px;height:15.10px;line-height:16.10px">0</div>
<div class="even" style="left:1241.20px;top:729.62px;width:60.40px;height:15.10px;line-height:16.10px">0</div>
<div class="even" style="left:1303.00px;top:729.62px;width:53.50px;height:15.10px;line-height:16.10px">0</div>
<div class="even" style="left:1358.50px;top:729.62px;width:54.10px;height:15.10px;line-height:16.10px">0</div>
<div class="even" style="left:1414.00px;top:729.62px;width:54.60px;height:15.10px;line-height:16.10px">0</div>
<div class="even" style="left:1470.00px;top:729.62px;width:52.40px;height:15.10px;line-height:16.10px">1</div>
<div class="even" style="left:1524.40px;top:729.62px;width:67.60px;height:15.10px;line-height:16.10px">-9</div>
<div style="position:absolute;left:17.00px;top:746.14px;width:1575.00px;height:15.10px;background:#e2f9ea"></div>
<div class="tot" style="left:17.00px;top:746.14px;width:39.00px;height:15.10px;line-height:16.10px"></div>
<div class="tot" style="left:58.00px;top:746.14px;width:38.50px;height:15.10px;line-height:16.10px"></div>
<div class="tot" style="left:98.00px;top:746.14px;width:294.00px;height:15.10px;line-height:16.10px"></div>
<div class="tot" style="left:394.00px;top:746.14px;width:95.00px;height:15.10px;line-height:16.10px">200:00</div>
<div class="tot" style="left:491.00px;top:746.14px;width:52.75px;height:15.10px;line-height:16.10px">46</div>
<div class="tot" style="left:546.00px;top:746.14px;width:80.75px;height:15.10px;line-height:16.10px">19/47</div>
<div class="tot" style="left:628.50px;top:746.14px;width:68.00px;height:15.10px;line-height:16.10px">2/14</div>
<div class="tot" style="left:698.25px;top:746.14px;width:81.25px;height:15.10px;line-height:16.10px">21/61</div>
<div class="tot" style="left:781.00px;top:746.14px;width:67.75px;height:15.10px;line-height:16.10px">2/12</div>
<div class="tot" style="left:850.00px;top:746.14px;width:53.00px;height:15.10px;line-height:16.10px">6</div>
<div class="tot" style="left:904.50px;top:746.14px;width:53.00px;height:15.10px;line-height:16.10px">22</div>
<div class="tot" style="left:959.00px;top:746.14px;width:53.50px;height:15.10px;line-height:16.10px">28</div>
<div class="tot" style="left:1014.25px;top:746.14px;width:53.25px;height:15.10px;line-height:16.10px">8</div>
<div class="tot" style="left:1069.00px;top:746.14px;width:52.75px;height:15.10px;line-height:16.10px">12</div>
<div class="tot" style="left:1123.00px;top:746.14px;width:53.80px;height:15.10px;line-height:16.10px">15</div>
<div class="tot" style="left:1178.20px;top:746.14px;width:61.00px;height:15.10px;line-height:16.10px">0</div>
<div class="tot" style="left:1241.20px;top:746.14px;width:60.40px;height:15.10px;line-height:16.10px">4</div>
<div class="tot" style="left:1303.00px;top:746.14px;width:53.50px;height:15.10px;line-height:16.10px">2</div>
<div class="tot" style="left:1358.50px;top:746.14px;width:54.10px;height:15.10px;line-height:16.10px">17</div>
<div class="tot" style="left:1414.00px;top:746.14px;width:54.60px;height:15.10px;line-height:16.10px">13</div>
<div class="tot" style="left:1470.00px;top:746.14px;width:52.40px;height:15.10px;line-height:16.10px">25</div>
<div class="tot" style="left:1524.40px;top:746.14px;width:67.60px;height:15.10px;line-height:16.10px"></div>
</body></html>
